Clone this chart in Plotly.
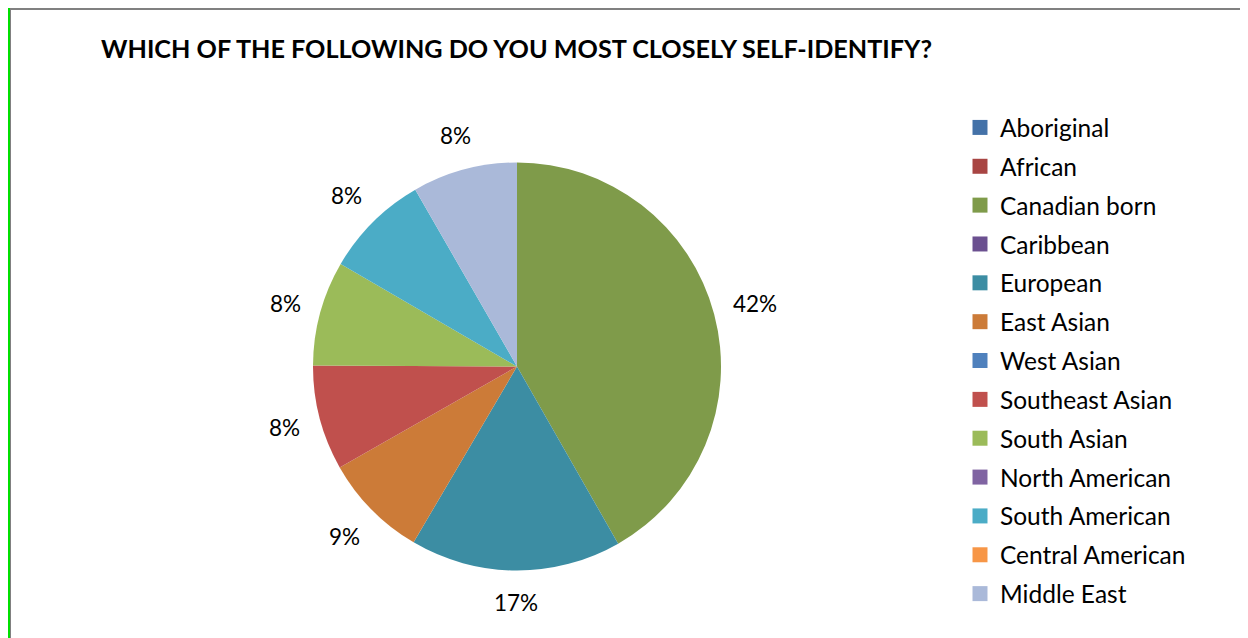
import math
import plotly.graph_objects as go

# page has an 8px body margin; figure coordinates are page coordinates minus 8
W, H = 1240, 630
OFF = 8

categories = ["Aboriginal", "African", "Canadian born", "Caribbean", "European",
              "East Asian", "West Asian", "Southeast Asian", "South Asian",
              "North American", "South American", "Central American", "Middle East"]
values = [0, 0, 41.7, 0, 16.7, 8.3, 0, 8.3, 8.3, 0, 8.3, 0, 8.3]
value_labels = ["", "", "42%", "", "17%", "9%", "", "8%", "8%", "", "8%", "", "8%"]
colors = ["#4472A8", "#A84543", "#7F9B4A", "#6B5090", "#3C8DA3", "#CC7B38",
          "#4F81BD", "#C0504D", "#9BBB59", "#8064A2", "#4BACC6", "#F79646", "#AAB9D9"]

title_text = "WHICH OF THE FOLLOWING DO YOU MOST CLOSELY SELF-IDENTIFY?"
FONT = "Lato"

# pie geometry (figure pixels)
cx, cy, R = 517 - OFF, 366.5 - OFF, 204

fig = go.Figure()
fig.add_trace(go.Pie(
    labels=categories, values=values, sort=False, direction="clockwise",
    rotation=0, marker=dict(colors=colors, line=dict(width=0)),
    textinfo="none", showlegend=False, hoverinfo="label+percent",
    domain=dict(x=[(cx - R) / W, (cx + R) / W],
                y=[1 - (cy + R) / H, 1 - (cy - R) / H]),
))

# outside labels, positioned from the cumulative data
total = sum(values)
cum = 0.0
annotations = []
fs = 22.5
for lab, v, txt in zip(categories, values, value_labels):
    if v > 0:
        mid = (cum + v / 2) / total * 2 * math.pi
        ux, uy = math.sin(mid), -math.cos(mid)
        hw = 0.28 * fs * len(txt) * 0.95
        hh = 10
        d = R + 22 + hw * abs(ux) + hh * abs(uy)
        px, py = cx + d * ux, cy + d * uy
        annotations.append(dict(x=px / W, y=1 - py / H, xref="paper", yref="paper",
                                text=txt, showarrow=False, xanchor="center", yanchor="middle",
                                font=dict(family=FONT, size=fs, color="#000000")))
    cum += v

# legend via dummy traces
for lab, col in zip(categories, colors):
    fig.add_trace(go.Scatter(x=[None], y=[None], mode="markers", name=lab,
                             legendgroup=lab,
                             marker=dict(symbol="square", size=15, color=col)))

annotations.append(dict(x=91 / W, y=1 - 40 / H, xref="paper", yref="paper",
                        text="<b>" + title_text + "</b>", showarrow=False,
                        xanchor="left", yanchor="middle",
                        font=dict(family=FONT, size=25.2, color="#000000")))

shapes = [
    dict(type="rect", xref="paper", yref="paper", x0=0, x1=2 / W, y0=0, y1=1,
         fillcolor="#00E000", line=dict(width=0)),
    dict(type="rect", xref="paper", yref="paper", x0=2 / W, x1=3 / W, y0=0, y1=1 - 1 / H,
         fillcolor="#808080", line=dict(width=0)),
    dict(type="rect", xref="paper", yref="paper", x0=2 / W, x1=1, y0=1 - 2 / H, y1=1,
         fillcolor="#808080", line=dict(width=0)),
    dict(type="rect", xref="paper", yref="paper", x0=1238 / W, x1=1, y0=0, y1=1,
         fillcolor="#808080", line=dict(width=0)),
]

fig.update_layout(
    width=W, height=H, margin=dict(l=0, r=0, t=0, b=0),
    paper_bgcolor="white", plot_bgcolor="white",
    xaxis=dict(visible=False), yaxis=dict(visible=False),
    annotations=annotations, shapes=shapes,
    legend=dict(x=952 / W, y=1 - 97 / H, xanchor="left", yanchor="top",
                font=dict(family=FONT, size=24.5, color="#000000"),
                tracegroupgap=4, bgcolor="rgba(0,0,0,0)"),
)

fig.write_html("out.html")
